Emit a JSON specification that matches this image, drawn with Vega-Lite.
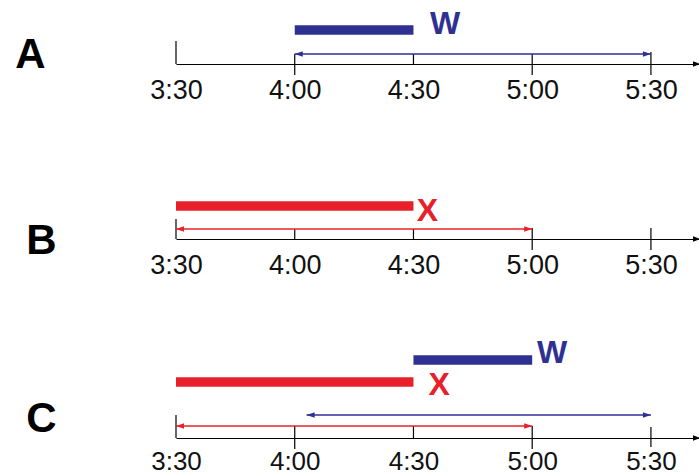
{
  "$schema": "https://vega.github.io/schema/vega-lite/v6.json",
  "autosize": {"type": "pad"},
  "padding": {"left": 14, "top": 7, "right": 0, "bottom": 0},
  "background": "#ffffff",
  "spacing": 110,
  "bounds": "flush",
  "config": {"view": {"stroke": null}, "axis": {"grid": false}, "font": "Liberation Sans"},
  "datasets": {
    "ticks": [
      {"row": "A", "t": 210, "top": 23, "bottom": 0},
      {"row": "A", "t": 240, "top": 10, "bottom": -11},
      {"row": "A", "t": 270, "top": 10, "bottom": 0},
      {"row": "A", "t": 300, "top": 10, "bottom": -11},
      {"row": "A", "t": 330, "top": 12, "bottom": -11},
      {"row": "B", "t": 210, "top": 20, "bottom": 0},
      {"row": "B", "t": 240, "top": 10, "bottom": 0},
      {"row": "B", "t": 270, "top": 10, "bottom": 0},
      {"row": "B", "t": 300, "top": 11, "bottom": -11},
      {"row": "B", "t": 330, "top": 11, "bottom": -11},
      {"row": "C", "t": 210, "top": 23, "bottom": 0},
      {"row": "C", "t": 240, "top": 12, "bottom": -11},
      {"row": "C", "t": 270, "top": 12, "bottom": 0},
      {"row": "C", "t": 300, "top": 12, "bottom": -11},
      {"row": "C", "t": 330, "top": 11, "bottom": -9}
    ],
    "spans": [
      {"row": "A", "job": "W", "kind": "bar", "start": 240, "end": 270, "lift": 34},
      {"row": "A", "job": "W", "kind": "arrow", "start": 240, "end": 330, "lift": 10},
      {"row": "B", "job": "X", "kind": "bar", "start": 210, "end": 270, "lift": 33},
      {"row": "B", "job": "X", "kind": "arrow", "start": 210, "end": 300, "lift": 10},
      {"row": "C", "job": "W", "kind": "bar", "start": 270, "end": 300, "lift": 78},
      {"row": "C", "job": "X", "kind": "bar", "start": 210, "end": 270, "lift": 56},
      {"row": "C", "job": "W", "kind": "arrow", "start": 243, "end": 330, "lift": 23},
      {"row": "C", "job": "X", "kind": "arrow", "start": 210, "end": 300, "lift": 12}
    ],
    "names": [
      {"row": "A", "job": "W", "t": 278, "lift": 40},
      {"row": "B", "job": "X", "t": 273.5, "lift": 28},
      {"row": "C", "job": "W", "t": 305, "lift": 85},
      {"row": "C", "job": "X", "t": 276.5, "lift": 53}
    ]
  },
  "vconcat": [
    {
      "width": 524, "height": 52,
      "layer": [
        {"data": {"name": "ticks"}, "transform": [{"filter": "datum.row === 'A'"}],
         "mark": {"type": "rule", "color": "#000000", "strokeWidth": 1.2},
         "encoding": {
           "x": {"field": "t", "type": "quantitative", "scale": {"domain": [210, 342.4], "nice": false, "zero": false},
                 "axis": {"values": [210, 240, 270, 300, 330], "labelExpr": "floor(datum.value/60) + ':' + (datum.value % 60 < 10 ? '0' : '') + (datum.value % 60)", "title": null, "ticks": false, "tickSize": 0, "labelPadding": 13, "labelFontSize": 27, "labelColor": "#111111", "labelFont": "Liberation Sans", "domainColor": "#000000", "domainWidth": 1.2, "labelFlush": false, "labelOverlap": false, "grid": false}},
           "y": {"field": "top", "type": "quantitative", "scale": {"domain": [0, 52], "nice": false, "zero": false},
                 "axis": {"title": "A", "titleAngle": 0, "titleFontSize": 42, "titleFontWeight": "bold", "titleFont": "Liberation Sans", "titleColor": "#000000", "titleX": -146, "titleY": 42, "titleAlign": "center", "titleBaseline": "middle", "labels": false, "ticks": false, "domain": false, "grid": false}},
           "y2": {"field": "bottom"}
         }},
        {"data": {"name": "spans"}, "transform": [{"filter": "datum.row === 'A' && datum.kind === 'arrow'"}],
         "mark": {"type": "rule", "strokeWidth": 1.4},
         "encoding": {
           "x": {"field": "start", "type": "quantitative"}, "x2": {"field": "end"},
           "y": {"field": "lift", "type": "quantitative"},
           "color": {"field": "job", "type": "nominal", "scale": {"domain": ["W", "X"], "range": ["#2e3192", "#e8202a"]}, "legend": null}
         }},
        {"data": {"name": "spans"}, "transform": [{"filter": "datum.row === 'A' && datum.kind === 'arrow'"}],
         "mark": {"type": "point", "shape": "M0,0L2,-0.7L2,0.7Z", "filled": true, "size": 64, "opacity": 1},
         "encoding": {
           "x": {"field": "start", "type": "quantitative"},
           "y": {"field": "lift", "type": "quantitative"},
           "color": {"field": "job", "type": "nominal", "legend": null}
         }},
        {"data": {"name": "spans"}, "transform": [{"filter": "datum.row === 'A' && datum.kind === 'arrow'"}],
         "mark": {"type": "point", "shape": "M0,0L-2,-0.7L-2,0.7Z", "filled": true, "size": 64, "opacity": 1},
         "encoding": {
           "x": {"field": "end", "type": "quantitative"},
           "y": {"field": "lift", "type": "quantitative"},
           "color": {"field": "job", "type": "nominal", "legend": null}
         }},
        {"data": {"name": "spans"}, "transform": [{"filter": "datum.row === 'A' && datum.kind === 'bar'"}],
         "mark": {"type": "rule", "strokeWidth": 9.5, "strokeCap": "butt"},
         "encoding": {
           "x": {"field": "start", "type": "quantitative"}, "x2": {"field": "end"},
           "y": {"field": "lift", "type": "quantitative"},
           "color": {"field": "job", "type": "nominal", "legend": null}
         }},
        {"data": {"name": "names"}, "transform": [{"filter": "datum.row === 'A'"}],
         "mark": {"type": "text", "fontSize": 32, "fontWeight": "bold", "font": "Liberation Sans", "align": "center", "baseline": "middle"},
         "encoding": {
           "x": {"field": "t", "type": "quantitative"},
           "y": {"field": "lift", "type": "quantitative"},
           "text": {"field": "job"},
           "color": {"field": "job", "type": "nominal", "legend": null}
         }},
        {"data": {"values": [{}]},
         "mark": {"type": "point", "shape": "M0,0L-2,-0.8L-2,0.8Z", "filled": true, "size": 49, "color": "#000000", "opacity": 1},
         "encoding": {"x": {"datum": 342.4, "type": "quantitative"}, "y": {"datum": 0, "type": "quantitative"}}}
      ]
    },
    {
      "width": 524, "height": 65,
      "layer": [
        {"data": {"name": "ticks"}, "transform": [{"filter": "datum.row === 'B'"}],
         "mark": {"type": "rule", "color": "#000000", "strokeWidth": 1.2},
         "encoding": {
           "x": {"field": "t", "type": "quantitative", "scale": {"domain": [210, 342.4], "nice": false, "zero": false},
                 "axis": {"values": [210, 240, 270, 300, 330], "labelExpr": "floor(datum.value/60) + ':' + (datum.value % 60 < 10 ? '0' : '') + (datum.value % 60)", "title": null, "ticks": false, "tickSize": 0, "labelPadding": 13, "labelFontSize": 27, "labelColor": "#111111", "labelFont": "Liberation Sans", "domainColor": "#000000", "domainWidth": 1.2, "labelFlush": false, "labelOverlap": false, "grid": false}},
           "y": {"field": "top", "type": "quantitative", "scale": {"domain": [0, 65], "nice": false, "zero": false},
                 "axis": {"title": "B", "titleAngle": 0, "titleFontSize": 42, "titleFontWeight": "bold", "titleFont": "Liberation Sans", "titleColor": "#000000", "titleX": -135, "titleY": 66, "titleAlign": "center", "titleBaseline": "middle", "labels": false, "ticks": false, "domain": false, "grid": false}},
           "y2": {"field": "bottom"}
         }},
        {"data": {"name": "spans"}, "transform": [{"filter": "datum.row === 'B' && datum.kind === 'arrow'"}],
         "mark": {"type": "rule", "strokeWidth": 1.4},
         "encoding": {
           "x": {"field": "start", "type": "quantitative"}, "x2": {"field": "end"},
           "y": {"field": "lift", "type": "quantitative"},
           "color": {"field": "job", "type": "nominal", "scale": {"domain": ["W", "X"], "range": ["#2e3192", "#e8202a"]}, "legend": null}
         }},
        {"data": {"name": "spans"}, "transform": [{"filter": "datum.row === 'B' && datum.kind === 'arrow'"}],
         "mark": {"type": "point", "shape": "M0,0L2,-0.7L2,0.7Z", "filled": true, "size": 64, "opacity": 1},
         "encoding": {
           "x": {"field": "start", "type": "quantitative"},
           "y": {"field": "lift", "type": "quantitative"},
           "color": {"field": "job", "type": "nominal", "legend": null}
         }},
        {"data": {"name": "spans"}, "transform": [{"filter": "datum.row === 'B' && datum.kind === 'arrow'"}],
         "mark": {"type": "point", "shape": "M0,0L-2,-0.7L-2,0.7Z", "filled": true, "size": 64, "opacity": 1},
         "encoding": {
           "x": {"field": "end", "type": "quantitative"},
           "y": {"field": "lift", "type": "quantitative"},
           "color": {"field": "job", "type": "nominal", "legend": null}
         }},
        {"data": {"name": "spans"}, "transform": [{"filter": "datum.row === 'B' && datum.kind === 'bar'"}],
         "mark": {"type": "rule", "strokeWidth": 9.5, "strokeCap": "butt"},
         "encoding": {
           "x": {"field": "start", "type": "quantitative"}, "x2": {"field": "end"},
           "y": {"field": "lift", "type": "quantitative"},
           "color": {"field": "job", "type": "nominal", "legend": null}
         }},
        {"data": {"name": "names"}, "transform": [{"filter": "datum.row === 'B'"}],
         "mark": {"type": "text", "fontSize": 32, "fontWeight": "bold", "font": "Liberation Sans", "align": "center", "baseline": "middle"},
         "encoding": {
           "x": {"field": "t", "type": "quantitative"},
           "y": {"field": "lift", "type": "quantitative"},
           "text": {"field": "job"},
           "color": {"field": "job", "type": "nominal", "legend": null}
         }},
        {"data": {"values": [{}]},
         "mark": {"type": "point", "shape": "M0,0L-2,-0.8L-2,0.8Z", "filled": true, "size": 49, "color": "#000000", "opacity": 1},
         "encoding": {"x": {"datum": 342.4, "type": "quantitative"}, "y": {"datum": 0, "type": "quantitative"}}}
      ]
    },
    {
      "width": 524, "height": 89,
      "layer": [
        {"data": {"name": "ticks"}, "transform": [{"filter": "datum.row === 'C'"}],
         "mark": {"type": "rule", "color": "#000000", "strokeWidth": 1.2},
         "encoding": {
           "x": {"field": "t", "type": "quantitative", "scale": {"domain": [210, 342.4], "nice": false, "zero": false},
                 "axis": {"values": [210, 240, 270, 300, 330], "labelExpr": "floor(datum.value/60) + ':' + (datum.value % 60 < 10 ? '0' : '') + (datum.value % 60)", "title": null, "ticks": false, "tickSize": 0, "labelPadding": 10, "labelFontSize": 26, "labelColor": "#111111", "labelFont": "Liberation Sans", "domainColor": "#000000", "domainWidth": 1.2, "labelFlush": false, "labelOverlap": false, "grid": false}},
           "y": {"field": "top", "type": "quantitative", "scale": {"domain": [0, 89], "nice": false, "zero": false},
                 "axis": {"title": "C", "titleAngle": 0, "titleFontSize": 42, "titleFontWeight": "bold", "titleFont": "Liberation Sans", "titleColor": "#000000", "titleX": -135, "titleY": 69, "titleAlign": "center", "titleBaseline": "middle", "labels": false, "ticks": false, "domain": false, "grid": false}},
           "y2": {"field": "bottom"}
         }},
        {"data": {"name": "spans"}, "transform": [{"filter": "datum.row === 'C' && datum.kind === 'arrow'"}],
         "mark": {"type": "rule", "strokeWidth": 1.4},
         "encoding": {
           "x": {"field": "start", "type": "quantitative"}, "x2": {"field": "end"},
           "y": {"field": "lift", "type": "quantitative"},
           "color": {"field": "job", "type": "nominal", "scale": {"domain": ["W", "X"], "range": ["#2e3192", "#e8202a"]}, "legend": null}
         }},
        {"data": {"name": "spans"}, "transform": [{"filter": "datum.row === 'C' && datum.kind === 'arrow'"}],
         "mark": {"type": "point", "shape": "M0,0L2,-0.7L2,0.7Z", "filled": true, "size": 64, "opacity": 1},
         "encoding": {
           "x": {"field": "start", "type": "quantitative"},
           "y": {"field": "lift", "type": "quantitative"},
           "color": {"field": "job", "type": "nominal", "legend": null}
         }},
        {"data": {"name": "spans"}, "transform": [{"filter": "datum.row === 'C' && datum.kind === 'arrow'"}],
         "mark": {"type": "point", "shape": "M0,0L-2,-0.7L-2,0.7Z", "filled": true, "size": 64, "opacity": 1},
         "encoding": {
           "x": {"field": "end", "type": "quantitative"},
           "y": {"field": "lift", "type": "quantitative"},
           "color": {"field": "job", "type": "nominal", "legend": null}
         }},
        {"data": {"name": "spans"}, "transform": [{"filter": "datum.row === 'C' && datum.kind === 'bar'"}],
         "mark": {"type": "rule", "strokeWidth": 9.5, "strokeCap": "butt"},
         "encoding": {
           "x": {"field": "start", "type": "quantitative"}, "x2": {"field": "end"},
           "y": {"field": "lift", "type": "quantitative"},
           "color": {"field": "job", "type": "nominal", "legend": null}
         }},
        {"data": {"name": "names"}, "transform": [{"filter": "datum.row === 'C'"}],
         "mark": {"type": "text", "fontSize": 32, "fontWeight": "bold", "font": "Liberation Sans", "align": "center", "baseline": "middle"},
         "encoding": {
           "x": {"field": "t", "type": "quantitative"},
           "y": {"field": "lift", "type": "quantitative"},
           "text": {"field": "job"},
           "color": {"field": "job", "type": "nominal", "legend": null}
         }},
        {"data": {"values": [{}]},
         "mark": {"type": "point", "shape": "M0,0L-2,-0.8L-2,0.8Z", "filled": true, "size": 49, "color": "#000000", "opacity": 1},
         "encoding": {"x": {"datum": 342.4, "type": "quantitative"}, "y": {"datum": 0, "type": "quantitative"}}}
      ]
    }
  ]
}
